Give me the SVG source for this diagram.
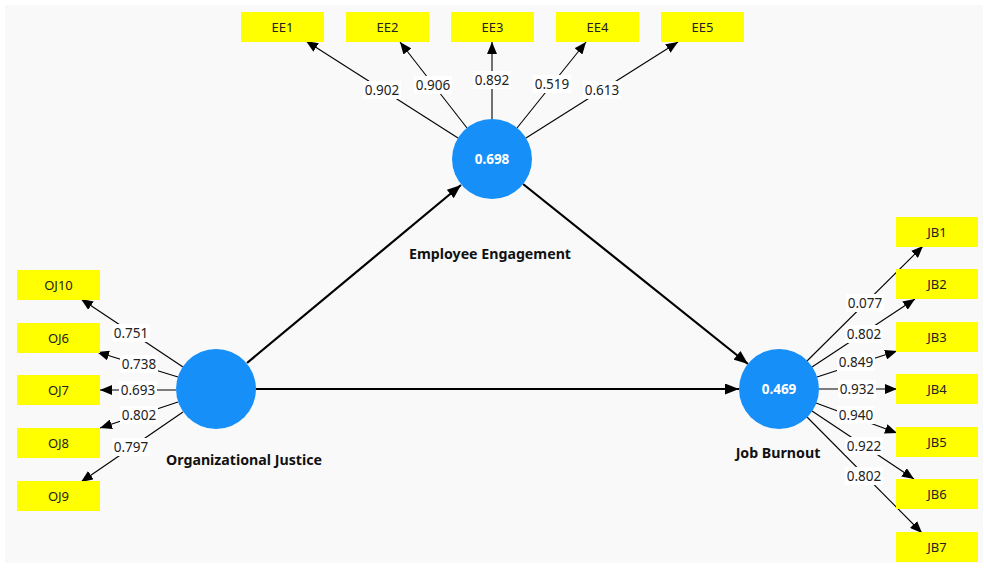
<svg xmlns="http://www.w3.org/2000/svg" width="984" height="568" viewBox="0 0 984 568">
<defs>
<marker id="ah" viewBox="0 0 12 10" refX="12" refY="5" markerWidth="12" markerHeight="10" orient="auto" markerUnits="userSpaceOnUse"><path d="M0,0 L12,5 L0,10 z" fill="#000"/></marker>
<marker id="ahb" viewBox="0 0 14 11" refX="14" refY="5.5" markerWidth="14" markerHeight="11" orient="auto" markerUnits="userSpaceOnUse"><path d="M0,0 L14,5.5 L0,11 z" fill="#000"/></marker>
</defs>
<style>
.ind rect{fill:#ffff00}
.ind text{font-family:"Noto Sans","Open Sans",sans-serif;font-size:13px;fill:#222;text-anchor:middle}
.lv circle{fill:#168ff8}
.lv text.v{font-family:"Noto Sans","Open Sans",sans-serif;font-size:13.5px;font-weight:bold;fill:#fff;text-anchor:middle}
.lv text.n{font-family:"Noto Sans","Open Sans",sans-serif;font-size:14.2px;font-weight:bold;fill:#111;text-anchor:middle}
.ld{stroke:#000;stroke-width:1.1;fill:none}
.st{stroke:#000;stroke-width:2.2;fill:none}
.lb rect{fill:#fff}
.lb text{font-family:"Noto Sans","Open Sans",sans-serif;font-size:13.5px;fill:#222;text-anchor:middle}
</style>
<rect x="0" y="0" width="984" height="568" fill="#fff"/>
<rect x="5" y="5" width="978" height="558" fill="#f9f9f9"/>

<g id="connectors">
<line class="ld" x1="458" y1="138" x2="306" y2="41" marker-end="url(#ah)"/>
<line class="ld" x1="467" y1="128" x2="400" y2="42" marker-end="url(#ah)"/>
<line class="ld" x1="492" y1="119" x2="492" y2="42" marker-end="url(#ah)"/>
<line class="ld" x1="517" y1="128" x2="586" y2="42" marker-end="url(#ah)"/>
<line class="ld" x1="526" y1="138" x2="678" y2="42" marker-end="url(#ah)"/>

<line class="ld" x1="183" y1="367" x2="81" y2="299" marker-end="url(#ah)"/>
<line class="ld" x1="178" y1="377" x2="97" y2="352" marker-end="url(#ah)"/>
<line class="ld" x1="176" y1="390" x2="100" y2="390" marker-end="url(#ah)"/>
<line class="ld" x1="178" y1="402" x2="100" y2="428" marker-end="url(#ah)"/>
<line class="ld" x1="183" y1="412" x2="81" y2="482" marker-end="url(#ah)"/>

<line class="ld" x1="807" y1="361" x2="923" y2="246" marker-end="url(#ah)"/>
<line class="ld" x1="812" y1="367" x2="915" y2="299" marker-end="url(#ah)"/>
<line class="ld" x1="817" y1="377" x2="897" y2="351" marker-end="url(#ah)"/>
<line class="ld" x1="819" y1="389" x2="897" y2="389" marker-end="url(#ah)"/>
<line class="ld" x1="816" y1="403" x2="897" y2="433" marker-end="url(#ah)"/>
<line class="ld" x1="812" y1="411" x2="914" y2="479" marker-end="url(#ah)"/>
<line class="ld" x1="807" y1="417" x2="922" y2="533" marker-end="url(#ah)"/>

<line class="st" x1="247" y1="363" x2="461" y2="185" marker-end="url(#ahb)"/>
<line class="st" x1="256" y1="389" x2="739" y2="389" marker-end="url(#ahb)"/>
<line class="st" x1="523" y1="184" x2="748" y2="364" marker-end="url(#ahb)"/>

<g class="lb">
<rect x="363" y="81" width="38" height="18"/><text x="382" y="94.5">0.902</text>
<rect x="414" y="76" width="38" height="18"/><text x="433" y="89.5">0.906</text>
<rect x="473" y="71" width="38" height="18"/><text x="492" y="84.5">0.892</text>
<rect x="533" y="75" width="38" height="18"/><text x="552" y="88.5">0.519</text>
<rect x="583" y="81" width="38" height="18"/><text x="602" y="94.5">0.613</text>

<rect x="112" y="324" width="38" height="18"/><text x="131" y="337.5">0.751</text>
<rect x="120" y="355" width="38" height="18"/><text x="139" y="368.5">0.738</text>
<rect x="119" y="381" width="38" height="18"/><text x="138" y="394.5">0.693</text>
<rect x="120" y="406" width="38" height="18"/><text x="139" y="419.5">0.802</text>
<rect x="112" y="438" width="38" height="18"/><text x="131" y="451.5">0.797</text>

<rect x="846" y="294" width="38" height="18"/><text x="865" y="307.5">0.077</text>
<rect x="845" y="325" width="38" height="18"/><text x="864" y="338.5">0.802</text>
<rect x="837" y="353" width="38" height="18"/><text x="856" y="366.5">0.849</text>
<rect x="838" y="380" width="38" height="18"/><text x="857" y="393.5">0.932</text>
<rect x="837" y="406" width="38" height="18"/><text x="856" y="419.5">0.940</text>
<rect x="845" y="437" width="38" height="18"/><text x="864" y="450.5">0.922</text>
<rect x="845" y="467" width="38" height="18"/><text x="864" y="480.5">0.802</text>
</g>
</g>

<g id="EE1" class="ind"><rect x="241" y="12" width="83" height="30"/><text x="282.5" y="31.5">EE1</text></g>
<g id="EE2" class="ind"><rect x="346" y="12" width="83" height="30"/><text x="387.5" y="31.5">EE2</text></g>
<g id="EE3" class="ind"><rect x="451" y="12" width="83" height="30"/><text x="492.5" y="31.5">EE3</text></g>
<g id="EE4" class="ind"><rect x="556" y="12" width="83" height="30"/><text x="597.5" y="31.5">EE4</text></g>
<g id="EE5" class="ind"><rect x="661" y="12" width="83" height="30"/><text x="702.5" y="31.5">EE5</text></g>

<g id="OJ10" class="ind"><rect x="17" y="270" width="83" height="30"/><text x="58.5" y="289.5">OJ10</text></g>
<g id="OJ6" class="ind"><rect x="17" y="323" width="83" height="30"/><text x="58.5" y="342.5">OJ6</text></g>
<g id="OJ7" class="ind"><rect x="17" y="375" width="83" height="30"/><text x="58.5" y="394.5">OJ7</text></g>
<g id="OJ8" class="ind"><rect x="17" y="428" width="83" height="30"/><text x="58.5" y="447.5">OJ8</text></g>
<g id="OJ9" class="ind"><rect x="17" y="481" width="83" height="30"/><text x="58.5" y="500.5">OJ9</text></g>

<g id="JB1" class="ind"><rect x="896" y="217" width="82" height="30"/><text x="937" y="236.5">JB1</text></g>
<g id="JB2" class="ind"><rect x="896" y="269" width="82" height="30"/><text x="937" y="288.5">JB2</text></g>
<g id="JB3" class="ind"><rect x="896" y="322" width="82" height="30"/><text x="937" y="341.5">JB3</text></g>
<g id="JB4" class="ind"><rect x="896" y="374" width="82" height="30"/><text x="937" y="393.5">JB4</text></g>
<g id="JB5" class="ind"><rect x="896" y="427" width="82" height="30"/><text x="937" y="446.5">JB5</text></g>
<g id="JB6" class="ind"><rect x="896" y="479" width="82" height="30"/><text x="937" y="498.5">JB6</text></g>
<g id="JB7" class="ind"><rect x="896" y="532" width="82" height="30"/><text x="937" y="551.5">JB7</text></g>

<g id="EmployeeEngagement" class="lv"><circle cx="492" cy="159" r="40"/><text class="v" x="492" y="164">0.698</text><text class="n" x="490" y="259">Employee Engagement</text></g>
<g id="OrganizationalJustice" class="lv"><circle cx="216" cy="389" r="40"/><text class="n" x="244" y="465">Organizational Justice</text></g>
<g id="JobBurnout" class="lv"><circle cx="779" cy="389" r="40"/><text class="v" x="779" y="394">0.469</text><text class="n" x="778" y="458">Job Burnout</text></g>
</svg>
